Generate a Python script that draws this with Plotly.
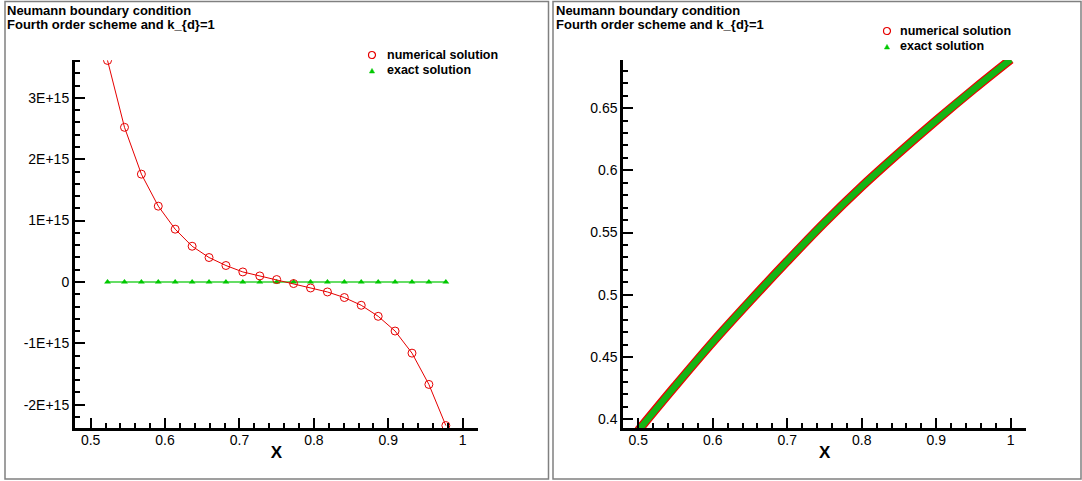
import plotly.graph_objects as go

W, H = 1082, 481

# ---------------- data ----------------
left_x = [0.5227, 0.5455, 0.5682, 0.5909, 0.6136, 0.6364, 0.6591, 0.6818, 0.7045,
          0.7273, 0.75, 0.7727, 0.7955, 0.8182, 0.8409, 0.8636, 0.8864, 0.9091,
          0.9318, 0.9545, 0.9773]
left_numerical = [3.61e15, 2.52e15, 1.757e15, 1.235e15, 0.86e15, 0.582e15, 0.398e15,
                  0.268e15, 0.163e15, 0.098e15, 0.039e15, -0.026e15, -0.098e15,
                  -0.163e15, -0.254e15, -0.38e15, -0.56e15, -0.80e15, -1.16e15,
                  -1.67e15, -2.34e15]
left_exact = [0.407, 0.423, 0.439, 0.455, 0.470, 0.485, 0.500, 0.515, 0.529, 0.543,
              0.558, 0.571, 0.584, 0.597, 0.609, 0.621, 0.633, 0.644, 0.655, 0.667, 0.678]

right_x = [0.5, 0.55, 0.6, 0.65, 0.7, 0.75, 0.8, 0.85, 0.9, 0.95, 1.0]
right_numerical = [0.391, 0.427, 0.462, 0.495, 0.527, 0.558, 0.587, 0.614, 0.640, 0.665, 0.689]
right_exact = [0.391, 0.427, 0.462, 0.495, 0.527, 0.558, 0.587, 0.614, 0.640, 0.665, 0.689]

x_tickvals = [0.5, 0.6, 0.7, 0.8, 0.9, 1.0]
x_ticktext = ["0.5", "0.6", "0.7", "0.8", "0.9", "1"]
left_y_tickvals = [-2e15, -1e15, 0, 1e15, 2e15, 3e15]
left_y_ticktext = ["-2E+15", "-1E+15", "0", "1E+15", "2E+15", "3E+15"]
right_y_tickvals = [0.4, 0.45, 0.5, 0.55, 0.6, 0.65]
right_y_ticktext = ["0.4", "0.45", "0.5", "0.55", "0.6", "0.65"]

title1 = "Neumann boundary condition"
title2 = "Fourth order scheme and k_{d}=1"
legend_labels = ["numerical solution", "exact solution"]

RED = "#e60000"
GREEN_LINE = "#66dd66"
GREEN_MARK = "#00c800"
FONT = "Liberation Sans, Arial, sans-serif"


def px(xp):
    return xp / W


def py(yp):
    return 1 - yp / H


fig = go.Figure()

# left panel
fig.add_trace(go.Scatter(x=left_x, y=left_exact, mode="lines+markers",
                         line=dict(color=GREEN_LINE, width=2),
                         marker=dict(symbol="triangle-up", size=6, color=GREEN_MARK),
                         xaxis="x", yaxis="y", showlegend=False))
fig.add_trace(go.Scatter(x=left_x, y=left_numerical, mode="lines+markers",
                         line=dict(color=RED, width=1),
                         marker=dict(symbol="circle-open", size=8, color=RED,
                                     line=dict(width=1, color=RED)),
                         xaxis="x", yaxis="y", showlegend=False))

# right panel
fig.add_trace(go.Scatter(x=right_x, y=right_numerical, mode="lines",
                         line=dict(color="#ee0000", width=9, shape="spline"),
                         xaxis="x2", yaxis="y2", showlegend=False))
fig.add_trace(go.Scatter(x=right_x, y=right_exact, mode="lines",
                         line=dict(color="#14b414", width=6.5, shape="spline"),
                         xaxis="x2", yaxis="y2", showlegend=False))

common = dict(showline=True, linecolor="black", linewidth=3, ticks="inside",
              ticklen=10, tickwidth=2, tickcolor="black", showgrid=False,
              zeroline=False, tickfont=dict(family=FONT, size=14, color="black"))
minor_x = dict(ticks="inside", ticklen=5, tickwidth=1.5, tickcolor="black",
               tickmode="linear", tick0=0.5, dtick=0.02, showgrid=False)
xtitle = dict(text="<b>X</b>", font=dict(family=FONT, size=17, color="black"), standoff=0)

fig.update_layout(
    width=W, height=H, autosize=False,
    margin=dict(l=0, r=0, t=0, b=0),
    paper_bgcolor="white", plot_bgcolor="white",
    xaxis=dict(domain=[px(75), px(478)], range=[0.479, 1.0205], anchor="y",
               tickmode="array", tickvals=x_tickvals, ticktext=x_ticktext,
               ticklabelstandoff=-3, minor=minor_x, title=xtitle, **common),
    yaxis=dict(domain=[py(428), py(60)], range=[-2.38e15, 3.617e15], anchor="x",
               tickmode="array", tickvals=left_y_tickvals, ticktext=left_y_ticktext,
               minor=dict(ticks="inside", ticklen=5, tickwidth=1.5, tickcolor="black",
                          tickmode="linear", tick0=0, dtick=0.2e15, showgrid=False),
               **common),
    xaxis2=dict(domain=[px(623.3), px(1026)], range=[0.4799, 1.0205], anchor="y2",
                tickmode="array", tickvals=x_tickvals, ticktext=x_ticktext,
                ticklabelstandoff=-3, minor=minor_x, title=xtitle, **common),
    yaxis2=dict(domain=[py(428.3), py(60)], range=[0.3928, 0.6886], anchor="x2",
                tickmode="array", tickvals=right_y_tickvals, ticktext=right_y_ticktext,
                minor=dict(ticks="inside", ticklen=5, tickwidth=1.5, tickcolor="black",
                           tickmode="linear", tick0=0.4, dtick=0.01, showgrid=False),
                **common),
)

ann = []
for x0 in (5, 554):
    ann.append(dict(x=px(x0), y=py(10), xref="paper", yref="paper", xanchor="left",
                    yanchor="middle", showarrow=False, text="<b>%s</b>" % title1,
                    font=dict(family=FONT, size=13, color="black")))
    ann.append(dict(x=px(x0), y=py(24.5), xref="paper", yref="paper", xanchor="left",
                    yanchor="middle", showarrow=False, text="<b>%s</b>" % title2,
                    font=dict(family=FONT, size=13, color="black")))

legend_pos = [(372, 385, 55), (887, 898, 31)]
shapes = []
for sx, tx, ty in legend_pos:
    for i, lab in enumerate(legend_labels):
        ann.append(dict(x=px(tx), y=py(ty + 15 * i), xref="paper", yref="paper",
                        xanchor="left", yanchor="middle", showarrow=False,
                        text="<b>%s</b>" % lab,
                        font=dict(family=FONT, size=12.5, color="black")))
    # legend symbols
    r = 3.5
    shapes.append(dict(type="circle", xref="paper", yref="paper",
                       x0=px(sx - r), x1=px(sx + r), y0=py(ty + r), y1=py(ty - r),
                       line=dict(color=RED, width=1.2)))
    cy = ty + 16
    path = "M %f %f L %f %f L %f %f Z" % (px(sx - 2.6), py(cy + 2), px(sx + 2.6), py(cy + 2),
                                         px(sx), py(cy - 2.6))
    shapes.append(dict(type="path", xref="paper", yref="paper", path=path,
                       fillcolor=GREEN_MARK, line=dict(color=GREEN_MARK, width=0.5)))

# panel frames
for x0, x1 in ((5, 548.5), (553, 1081)):
    shapes.append(dict(type="rect", xref="paper", yref="paper",
                       x0=px(x0), x1=px(x1), y0=py(479), y1=py(1.5),
                       line=dict(color="#808080", width=1.5), layer="below"))

fig.update_layout(annotations=ann, shapes=shapes)
fig.write_html("out.html", config={"displayModeBar": False},
               post_script="document.body.style.margin='0';document.body.style.overflow='hidden';")
